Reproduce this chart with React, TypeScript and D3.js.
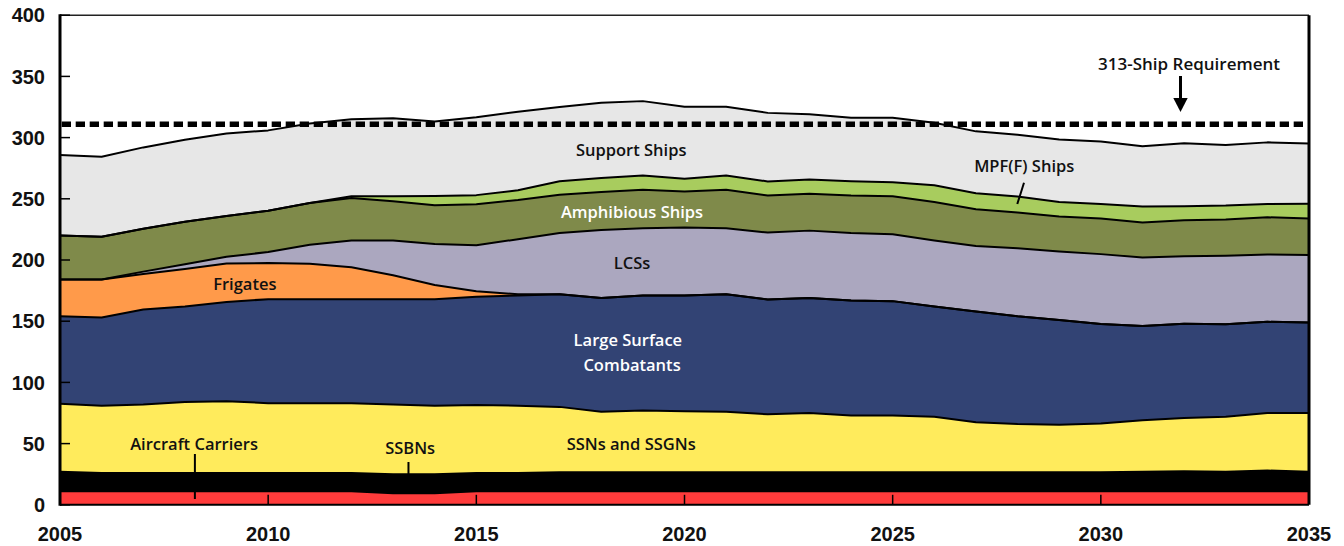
import React from "react";
import * as d3 from "d3";

const years = d3.range(2005, 2036);

const carriers = [11, 11, 11, 11, 11, 11, 11, 11, 9.5, 9.5, 11, 11, 11, 11, 11, 11, 11, 11, 11, 11, 11, 11, 11, 11, 11, 11, 11, 11, 11, 11, 11];
const ssbns = [16, 15, 15, 15, 15, 15, 15, 15, 15.5, 15.5, 15, 15, 15.5, 15.5, 15.5, 15.5, 15.5, 15.5, 15.5, 15.5, 15.5, 15.5, 15.5, 15.5, 15.5, 15.5, 16, 16.5, 16, 17, 16];
const ssns = [55.5, 55, 56, 58, 58.7, 57, 57, 57, 57, 56, 55.5, 55, 53.5, 49.5, 50.5, 50, 49.5, 47.5, 48.5, 46.5, 46.5, 45.5, 41, 39.5, 39, 40, 42, 43.5, 45, 47, 48];
const largeSurface = [71.5, 72, 77.5, 78, 81, 85, 85, 85, 86, 87, 88.5, 90, 92, 93, 94, 94.5, 96, 93.8, 94, 94, 93.4, 90, 90.5, 88, 85.4, 81.3, 77, 77, 75.5, 74.5, 74];
const frigates = [30, 31, 29, 30.6, 31.5, 29.5, 29, 26, 19.5, 11.5, 4.5, 1, 0, 0, 0, 0, 0, 0, 0, 0, 0, 0, 0, 0, 0, 0, 0, 0, 0, 0, 0];
const lcss = [0, 0, 2, 4, 5.5, 9, 15.5, 22, 28.5, 33.5, 37.5, 45, 50, 55.6, 55, 55.5, 54, 54.6, 55, 55, 54.6, 54, 53.5, 55.6, 56, 57, 56, 55, 56, 55, 55];
const amphibious = [36, 35, 35, 34.7, 33.3, 33.7, 34, 34.7, 32, 31.7, 33.6, 32, 31.4, 31, 31.4, 29.5, 31.4, 30.3, 30.2, 30.6, 31, 31.4, 30, 29.2, 28.6, 29.2, 28.7, 29.5, 29.5, 30.4, 30];
const mpff = [0, 0, 0, 0, 0, 0, 0, 1.4, 4, 7.5, 7.4, 8, 11, 11.4, 11.6, 10.4, 11.6, 11.5, 11.6, 11.7, 11.5, 13.7, 13, 13, 11.8, 11.8, 13, 11.5, 11.5, 10.9, 11.9];
const support = [65.8, 65.4, 66.5, 67, 67.3, 65.7, 65.1, 62.9, 63.9, 61, 63.6, 64.2, 60.6, 61.5, 60.8, 58.8, 56.2, 56, 53.3, 51.9, 52.7, 51.1, 50.6, 50.6, 51.1, 51.1, 49.2, 51.3, 49.4, 50.3, 49.2];

const requirementValue = 311;
const requirementLabel = "313-Ship Requirement";
const yTicks = [0, 50, 100, 150, 200, 250, 300, 350, 400];
const xTicks = [2005, 2010, 2015, 2020, 2025, 2030, 2035];

const seriesKeys = ["carriers", "ssbns", "ssns", "largeSurface", "frigates", "lcss", "amphibious", "mpff", "support"];
const seriesColors = ["#FF3B3B", "#000000", "#FFEB5C", "#324374", "#FF9A4A", "#ABA7BF", "#7F8A4A", "#A8CC5E", "#E7E7E7"];

const seriesLabels = [
  { text: ["Support Ships"], year: 2018.72, value: 289.9, color: "#111" },
  { text: ["Amphibious Ships"], year: 2018.74, value: 239.2, color: "#fff" },
  { text: ["LCSs"], year: 2018.74, value: 197.5, color: "#111" },
  { text: ["Frigates"], year: 2009.44, value: 180, color: "#111" },
  { text: ["Large Surface"], year: 2018.64, value: 134.6, color: "#fff" },
  { text: ["Combatants"], year: 2018.74, value: 114.2, color: "#fff" },
  { text: ["SSNs and SSGNs"], year: 2018.72, value: 49.7, color: "#111" },
  { text: ["Aircraft Carriers"], year: 2008.22, value: 49.7, color: "#111" },
  { text: ["SSBNs"], year: 2013.41, value: 46.4, color: "#111" },
  { text: ["MPF(F) Ships"], year: 2028.16, value: 276.8, color: "#111" },
];

const W = 1344;
const H = 546;
const x = d3.scaleLinear().domain([2005, 2035]).range([60, 1309]);
const y = d3.scaleLinear().domain([0, 400]).range([504.8, 15.2]);

export default function App() {
  const table = years.map((yr, i) => ({
    year: yr,
    carriers: carriers[i],
    ssbns: ssbns[i],
    ssns: ssns[i],
    largeSurface: largeSurface[i],
    frigates: frigates[i],
    lcss: lcss[i],
    amphibious: amphibious[i],
    mpff: mpff[i],
    support: support[i],
  }));
  const stacked = d3.stack<any>().keys(seriesKeys)(table);
  const area = d3
    .area<any>()
    .x((d) => x(d.data.year))
    .y0((d) => y(d[0]))
    .y1((d) => y(d[1]));
  const topLine = d3
    .line<any>()
    .x((d) => x(d.data.year))
    .y((d) => y(d[1]));

  const font = "'Liberation Sans', Arial, sans-serif";
  const labelFont = "'Open Sans', 'Liberation Sans', sans-serif";

  return (
    <svg width={W} height={H} style={{ position: "absolute", left: 0, top: 0, background: "#fff" }}>
      {stacked.map((s, i) => (
        <path key={s.key} d={area(s) || ""} fill={seriesColors[i]} />
      ))}
      {stacked.map((s) => (
        <path key={s.key + "l"} d={topLine(s) || ""} fill="none" stroke="#000" strokeWidth={2} strokeLinejoin="round" />
      ))}
      {/* frame */}
      <line x1={x(2005)} x2={x(2035)} y1={y(400)} y2={y(400)} stroke="#222" strokeWidth={1.5} />
      <line x1={x(2035)} x2={x(2035)} y1={y(400)} y2={y(0)} stroke="#000" strokeWidth={3} />
      <line x1={x(2005)} x2={x(2005)} y1={y(400) - 1} y2={y(0) + 1} stroke="#000" strokeWidth={3} />
      <line x1={x(2005)} x2={x(2035)} y1={y(0)} y2={y(0)} stroke="#000" strokeWidth={2} />
      {yTicks.map((t) => (
        <g key={"yt" + t}>
          <line x1={x(2005)} x2={x(2005) + 10} y1={y(t)} y2={y(t)} stroke="#000" strokeWidth={1.5} />
          <text x={45} y={y(t)} dy="0.36em" textAnchor="end" fontFamily={font} fontWeight="bold" fontSize={20} fill="#111">
            {t}
          </text>
        </g>
      ))}
      {xTicks.map((t) => (
        <g key={"xt" + t}>
          {t > 2005 && t < 2035 && (
            <line x1={x(t)} x2={x(t)} y1={y(0)} y2={y(0) - 10} stroke="#000" strokeWidth={1.5} />
          )}
          <text x={x(t)} y={533.5} dy="0.36em" textAnchor="middle" fontFamily={font} fontWeight="bold" fontSize={20} fill="#111">
            {t}
          </text>
        </g>
      ))}
      {/* requirement line */}
      <line
        x1={x(2005) + 1.7}
        x2={x(2035) - 1.5}
        y1={y(requirementValue)}
        y2={y(requirementValue)}
        stroke="#000"
        strokeWidth={5.5}
        strokeDasharray="9.3,4.7"
      />
      <text x={1189} y={64} dy="0.36em" textAnchor="middle" fontFamily={labelFont} fontWeight={600} fontSize={17} fill="#111">
        {requirementLabel}
      </text>
      <line x1={1180.5} x2={1180.5} y1={76} y2={100} stroke="#000" strokeWidth={3} />
      <path d="M1173.3,98 L1187.7,98 L1180.5,112 Z" fill="#000" />
      {/* pointers */}
      <line x1={x(2008.24)} x2={x(2008.24)} y1={454} y2={499} stroke="#000" strokeWidth={2} />
      <line x1={x(2013.37)} x2={x(2013.37)} y1={462} y2={474} stroke="#000" strokeWidth={2} />
      <line x1={1024} x2={1017.3} y1={182.7} y2={204} stroke="#000" strokeWidth={2} />
      {seriesLabels.map((l, i) => (
        <text
          key={"sl" + i}
          x={x(l.year)}
          y={y(l.value)}
          dy="0.36em"
          textAnchor="middle"
          fontFamily={labelFont}
          fontWeight={600}
          fontSize={16.5}
          fill={l.color}
        >
          {l.text[0]}
        </text>
      ))}
    </svg>
  );
}
